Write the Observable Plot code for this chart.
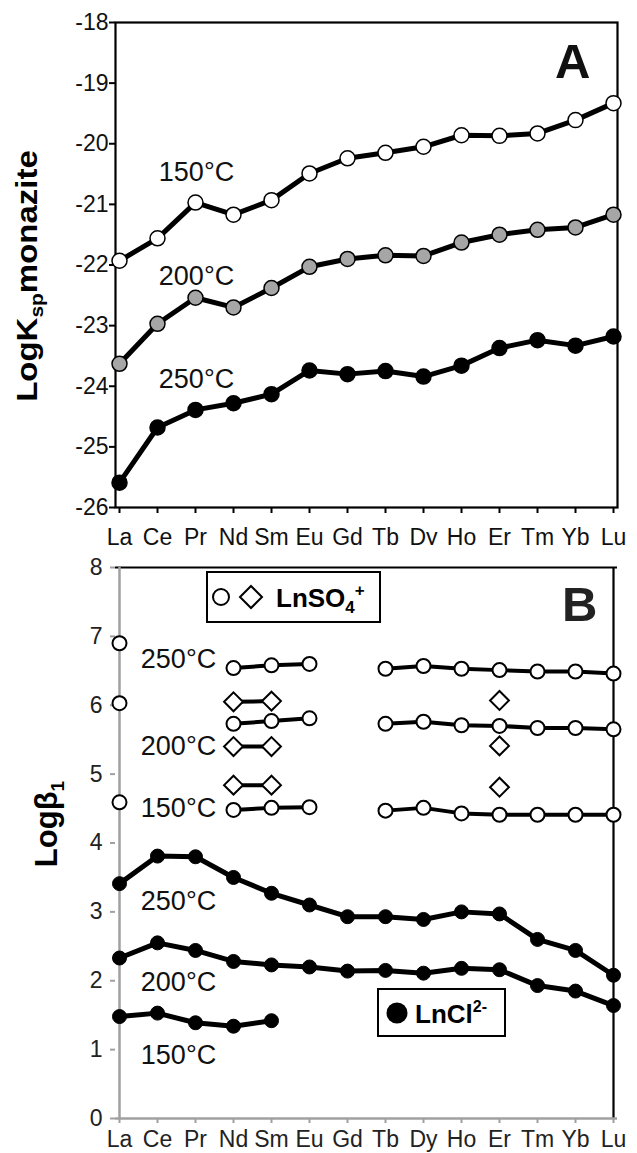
<!DOCTYPE html>
<html><head><meta charset="utf-8">
<script src="https://cdn.jsdelivr.net/npm/d3@7"></script>
<script src="https://cdn.jsdelivr.net/npm/@observablehq/plot@0.6"></script>
<style>
body{margin:0;background:#fff;}
#wrap{position:relative;width:637px;height:1153px;overflow:hidden;background:#fff;font-family:"Liberation Sans",Arial,sans-serif;}
.abs{position:absolute;}
.ylab{position:absolute;font-weight:bold;white-space:nowrap;line-height:1;color:#000;}
</style></head><body>
<div id="wrap">
  <div id="panelA" class="abs" style="left:0;top:0"></div>
  <div id="panelB" class="abs" style="left:0;top:545px"></div>
  <div class="ylab" style="left:27px;top:276px;font-size:30px;transform:translate(-50%,-50%) rotate(-90deg) scaleX(1.1)">LogK<span style="font-size:19px;position:relative;top:6px">sp</span>monazite</div>
  <div class="ylab" style="left:46px;top:824px;font-size:31px;transform:translate(-50%,-50%) rotate(-90deg)">Logβ<span style="font-size:19px;position:relative;top:7px">1</span></div>
  <svg class="abs" style="left:206px;top:571px" width="176" height="53">
    <rect x="1" y="1" width="173" height="50" fill="#fff" stroke="#000" stroke-width="2"/>
    <circle cx="15" cy="26" r="8" fill="#fff" stroke="#000" stroke-width="2"/>
    <path d="M45,15 L56,26 L45,37 L34,26 Z" fill="#fff" stroke="#000" stroke-width="2"/>
    <text x="70" y="36" font-size="26" font-weight="bold" font-family="Liberation Sans, Arial, sans-serif">LnSO<tspan font-size="17" dy="6">4</tspan><tspan font-size="17" dy="-17">+</tspan></text>
  </svg>
  <svg class="abs" style="left:377px;top:988px" width="130" height="50">
    <rect x="1" y="1" width="127" height="47" fill="#fff" stroke="#000" stroke-width="2"/>
    <circle cx="20" cy="25" r="10.5" fill="#000"/>
    <text x="38" y="35" font-size="26" font-weight="bold" font-family="Liberation Sans, Arial, sans-serif">LnCl<tspan font-size="16" dy="-11">2-</tspan></text>
  </svg>
</div>
<script>
// Lanthanide series
const elements = ["La","Ce","Pr","Nd","Sm","Eu","Gd","Tb","Dy","Ho","Er","Tm","Yb","Lu"];
const temps = ["150°C","200°C","250°C"];

// Panel A: LogKsp monazite
const ksp150 = [-21.93,-21.56,-20.97,-21.17,-20.93,-20.49,-20.24,-20.15,-20.05,-19.86,-19.87,-19.83,-19.61,-19.33];
const ksp200 = [-23.63,-22.97,-22.54,-22.70,-22.38,-22.03,-21.90,-21.84,-21.85,-21.63,-21.50,-21.42,-21.38,-21.17];
const ksp250 = [-25.59,-24.68,-24.39,-24.28,-24.13,-23.74,-23.80,-23.75,-23.84,-23.66,-23.37,-23.24,-23.33,-23.18];
const yTicksA = [-26,-25,-24,-23,-22,-21,-20,-19,-18];

// Panel B: Logβ1, LnSO4+ (circles)
const so4_150 = [4.59,null,null,4.48,4.51,4.52,null,4.47,4.51,4.43,4.41,4.41,4.41,4.41];
const so4_200 = [6.03,null,null,5.73,5.77,5.81,null,5.73,5.76,5.71,5.70,5.67,5.67,5.65];
const so4_250 = [6.90,null,null,6.54,6.58,6.60,null,6.53,6.57,6.53,6.51,6.49,6.49,6.46];
// LnSO4+ (diamonds)
const dia_150 = [null,null,null,4.84,4.84,null,null,null,null,null,4.81,null,null,null];
const dia_200 = [null,null,null,5.40,5.40,null,null,null,null,null,5.41,null,null,null];
const dia_250 = [null,null,null,6.05,6.06,null,null,null,null,null,6.07,null,null,null];
// LnCl2- (filled circles)
const cl150 = [1.48,1.53,1.39,1.34,1.42,null,null,null,null,null,null,null,null,null];
const cl200 = [2.33,2.55,2.44,2.28,2.23,2.20,2.14,2.15,2.11,2.18,2.16,1.93,1.85,1.64];
const cl250 = [3.41,3.81,3.80,3.50,3.27,3.10,2.93,2.93,2.89,3.00,2.97,2.60,2.44,2.08];
const yTicksB = [0,1,2,3,4,5,6,7,8];

const tidy = (arr, series) => arr.map((v,i) => ({el: elements[i], v, series}));

const tickFont = "'Liberation Sans Narrow','Arial Narrow','Liberation Sans',Arial,sans-serif";
const labFont = "'Liberation Sans',Arial,sans-serif";

// ---------- Panel A ----------
const A150 = tidy(ksp150,"150"), A200 = tidy(ksp200,"200"), A250 = tidy(ksp250,"250");
const kspAll = [...A150, ...A200, ...A250];
const chartA = Plot.plot({
  width: 637, height: 545,
  marginLeft: 115, marginRight: 20, marginTop: 22, marginBottom: 38,
  style: {fontFamily: tickFont, fontSize: "23px", color: "#111", background: "#fff", overflow: "visible"},
  x: {type: "point", domain: elements, padding: 0, label: null},
  y: {domain: [-26,-18], label: null},
  marks: [
    Plot.frame({stroke: "#000", strokeWidth: 2.2}),
    Plot.axisY({ticks: yTicksA, tickSize: 6, tickPadding: 1, tickFormat: d => String(d), fontSize: 23, stroke: "#000", strokeWidth: 2, label: null}),
    Plot.axisX({tickSize: 6, tickPadding: 15, fontSize: 23, stroke: "#000", strokeWidth: 2, label: null}),
    Plot.line(kspAll, {x: "el", y: "v", z: "series", stroke: "#000", strokeWidth: 5}),
    Plot.dot(A150, {x: "el", y: "v", r: 7.5, fill: "#fff", stroke: "#000", strokeWidth: 1.5}),
    Plot.dot(A200, {x: "el", y: "v", r: 7.5, fill: "#a6a6a6", stroke: "#000", strokeWidth: 1.5}),
    Plot.dot(A250, {x: "el", y: "v", r: 7.5, fill: "#000", stroke: "#000", strokeWidth: 1.5}),
    Plot.text([{x:"Pr", y:-20.48, t: temps[0]}, {x:"Pr", y:-22.19, t: temps[1]}, {x:"Pr", y:-23.89, t: temps[2]}],
      {x: "x", y: "y", text: "t", fontSize: 27, fontFamily: labFont, fill: "#111", textAnchor: "middle", lineAnchor: "middle", dx: 1}),
    Plot.text(["A"], {frameAnchor: "top-right", text: d => d, fontSize: 49, fontWeight: "bold", fontFamily: labFont, textAnchor: "end", lineAnchor: "top", dx: -27, dy: 21})
  ]
});
document.getElementById("panelA").appendChild(chartA);

// ---------- Panel B ----------
const S150 = tidy(so4_150,"s150"), S200 = tidy(so4_200,"s200"), S250 = tidy(so4_250,"s250");
const D150 = tidy(dia_150,"d150"), D200 = tidy(dia_200,"d200"), D250 = tidy(dia_250,"d250");
const C150 = tidy(cl150,"c150"), C200 = tidy(cl200,"c200"), C250 = tidy(cl250,"c250");
const so4All = [...S150, ...S200, ...S250];
const diaAll = [...D150, ...D200, ...D250];
const clAll = [...C150, ...C200, ...C250];
const gray = "#a0a0a0";
const chartB = Plot.plot({
  width: 637, height: 608,
  marginLeft: 115, marginRight: 20, marginTop: 22, marginBottom: 35,
  style: {fontFamily: tickFont, fontSize: "23px", color: "#222", background: "#fff", overflow: "visible"},
  x: {type: "point", domain: elements, padding: 0, label: null},
  y: {domain: [0, 8], label: null},
  marks: [
    Plot.ruleY([8], {stroke: "#000", strokeWidth: 2.2}),
    Plot.ruleX([elements[elements.length-1]], {stroke: "#000", strokeWidth: 2.2}),
    Plot.ruleY([0], {stroke: gray, strokeWidth: 2.5}),
    Plot.ruleX([elements[0]], {stroke: gray, strokeWidth: 2.5}),
    Plot.axisY({ticks: yTicksB, tickSize: 5, tickPadding: 8, fontSize: 23, stroke: gray, strokeWidth: 2, label: null}),
    Plot.axisX({tickSize: 5, tickPadding: 7, fontSize: 23, stroke: gray, strokeWidth: 2, label: null}),
    Plot.line(clAll, {x: "el", y: "v", z: "series", stroke: "#000", strokeWidth: 5}),
    Plot.line(so4All, {x: "el", y: "v", z: "series", stroke: "#000", strokeWidth: 4}),
    Plot.line(diaAll, {x: "el", y: "v", z: "series", stroke: "#000", strokeWidth: 4}),
    Plot.dot(clAll, {x: "el", y: "v", r: 7, fill: "#000", stroke: "#000", strokeWidth: 1}),
    Plot.dot(so4All, {x: "el", y: "v", r: 7, fill: "#fff", stroke: "#000", strokeWidth: 2}),
    Plot.dot(diaAll, {x: "el", y: "v", r: 8.5, symbol: "diamond2", fill: "#fff", stroke: "#000", strokeWidth: 2}),
    Plot.text([{x:"Ce", y:6.67, t: temps[2]}, {x:"Ce", y:5.40, t: temps[1]}, {x:"Ce", y:4.51, t: temps[0]},
               {x:"Ce", y:3.15, t: temps[2]}, {x:"Ce", y:1.97, t: temps[1]}, {x:"Ce", y:0.91, t: temps[0]}],
      {x: "x", y: "y", text: "t", fontSize: 27, fontFamily: labFont, fill: "#111", textAnchor: "middle", lineAnchor: "middle", dx: 21}),
    Plot.text(["B"], {frameAnchor: "top-right", text: d => d, fontSize: 49, fontWeight: "bold", fontFamily: labFont, textAnchor: "end", lineAnchor: "top", dx: -20, dy: 19})
  ]
});
document.getElementById("panelB").appendChild(chartB);
</script>
</body></html>
